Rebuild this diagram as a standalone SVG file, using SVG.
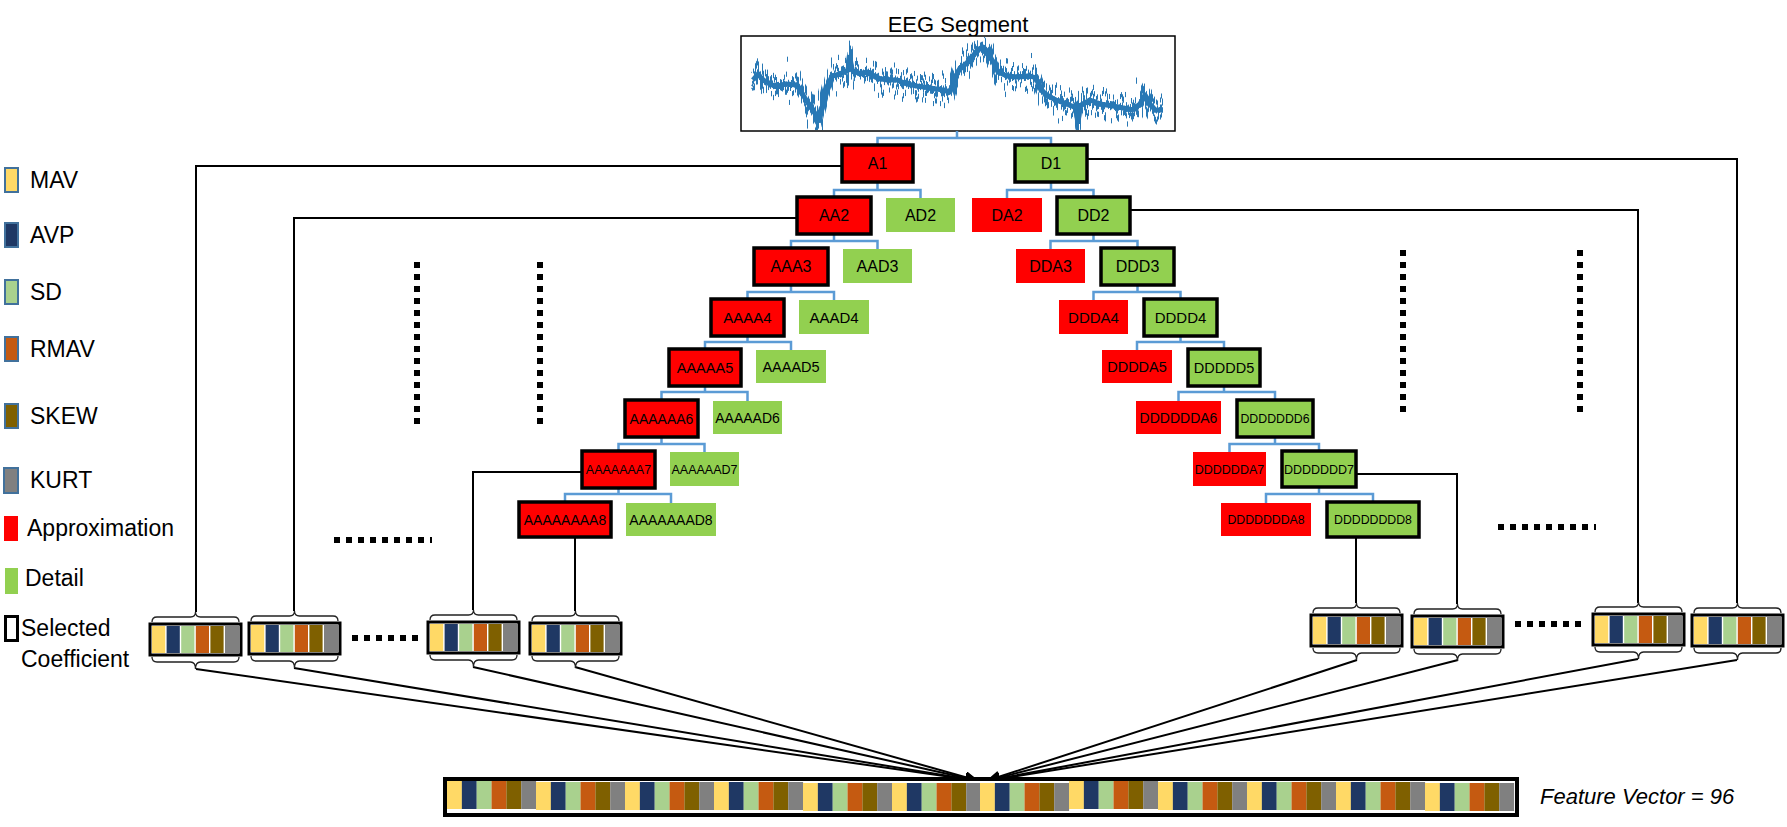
<svg xmlns="http://www.w3.org/2000/svg" xmlns:xlink="http://www.w3.org/1999/xlink" width="1787" height="827" viewBox="0 0 1787 827">
<style>
.t{font-family:"Liberation Sans",Arial,sans-serif;fill:#000}
.nt{font-family:"Liberation Sans",Arial,sans-serif;fill:#000;text-anchor:middle}
.sel{stroke:#000;stroke-width:3.5}
.ar{fill:#FF0000}
.dt{fill:#92D050}
.tree{stroke:#5B9BD5;stroke-width:2.5;fill:none}
.conn{stroke:#000;stroke-width:2;fill:none}
.arr{stroke:#000;stroke-width:2;fill:none;marker-end:url(#ah)}
.dots{stroke:#000;stroke-width:6;stroke-dasharray:6 6;fill:none}
.lg{stroke:#41719C;stroke-width:2}
.brace{stroke:#222;stroke-width:1.3;fill:none}
.c1{fill:#FFD966}.c2{fill:#1F3864}.c3{fill:#A9D18E}.c4{fill:#C55A11}.c5{fill:#7F6000}.c6{fill:#808080}
</style>
<defs>
<marker id="ah" markerUnits="userSpaceOnUse" markerWidth="16" markerHeight="14" refX="14" refY="6" orient="auto">
<path d="M0,0 L14,6 L0,12 Z" fill="#000"/>
</marker>
<filter id="noise" filterUnits="userSpaceOnUse" x="742" y="37" width="432" height="93" color-interpolation-filters="sRGB">
<feTurbulence type="fractalNoise" baseFrequency="0.45 0" numOctaves="2" seed="3" result="t"/>
<feColorMatrix in="t" type="matrix" values="0 0 0 0 0.5  0 1 0 0 0  0 0 0 0 0  0 0 0 0 1" result="m"/>
<feDisplacementMap in="SourceGraphic" in2="m" scale="90" xChannelSelector="R" yChannelSelector="G"/>
</filter>
<filter id="noise2" filterUnits="userSpaceOnUse" x="742" y="37" width="432" height="93" color-interpolation-filters="sRGB">
<feTurbulence type="fractalNoise" baseFrequency="0.9 0" numOctaves="1" seed="11" result="t"/>
<feColorMatrix in="t" type="matrix" values="0 0 0 0 0.5  0 1 0 0 0  0 0 0 0 0  0 0 0 0 1" result="m"/>
<feDisplacementMap in="SourceGraphic" in2="m" scale="60" xChannelSelector="R" yChannelSelector="G"/>
</filter>
<filter id="noise3" filterUnits="userSpaceOnUse" x="742" y="37" width="432" height="93" color-interpolation-filters="sRGB">
<feTurbulence type="fractalNoise" baseFrequency="0.2 0" numOctaves="2" seed="7" result="t"/>
<feColorMatrix in="t" type="matrix" values="0 0 0 0 0.5  0 1 0 0 0  0 0 0 0 0  0 0 0 0 1" result="m"/>
<feDisplacementMap in="SourceGraphic" in2="m" scale="60" xChannelSelector="R" yChannelSelector="G"/>
</filter>
<g id="seg">
<path class="brace" d="M2,-2 Q2,-7 7,-7 L40.5,-7 Q45.5,-7 45.5,-12 Q45.5,-7 50.5,-7 L84,-7 Q89,-7 89,-2"/>
<rect x="0" y="0" width="91" height="31" fill="#fff" stroke="#000" stroke-width="3"/>
<rect class="c1" x="2" y="2" width="13.2" height="27"/>
<rect class="c2" x="16.6" y="2" width="13.2" height="27"/>
<rect class="c3" x="31.2" y="2" width="13.2" height="27"/>
<rect class="c4" x="45.8" y="2" width="13.2" height="27"/>
<rect class="c5" x="60.4" y="2" width="13.2" height="27"/>
<rect class="c6" x="75" y="2" width="14" height="27"/>
<path class="brace" d="M2,33 Q2,38 7,38 L40.5,38 Q45.5,38 45.5,45 Q45.5,38 50.5,38 L84,38 Q89,38 89,33"/>
</g>
<g id="fgrp">
<rect class="c1" x="0" y="0" width="14.9" height="28"/>
<rect class="c2" x="14.85" y="0" width="14.9" height="28"/>
<rect class="c3" x="29.7" y="0" width="14.9" height="28"/>
<rect class="c4" x="44.55" y="0" width="14.9" height="28"/>
<rect class="c5" x="59.4" y="0" width="14.9" height="28"/>
<rect class="c6" x="74.25" y="0" width="14.85" height="28"/>
</g>
</defs>
<rect width="1787" height="827" fill="#fff"/>

<!-- EEG segment -->
<g id="eeg">
<text class="nt" x="958" y="32" font-size="22">EEG Segment</text>
<rect x="741" y="36" width="434" height="95" fill="#fff" stroke="#000" stroke-width="1.5"/>
<g stroke="#2878B5" fill="none" stroke-linejoin="round">
<path id="trend" stroke-width="5" d="M753,80 L758,74 L763,80 L770,84 L777,87 L785,84 L797,85 L803,95 L808,103 L813,110 L819,120 L823,104 L827,88 L832,76 L840,74 L848,70 L850,58 L852,70 L860,74 L868,72 L877,78 L887,80 L897,80 L907,84 L917,86 L930,88 L943,90 L950,92 L955,78 L960,68 L966,64 L972,57 L978,50 L983,47 L988,52 L993,62 L998,72 L1007,76 L1018,77 L1030,76 L1036,78 L1041,90 L1048,96 L1056,100 L1064,103 L1072,106 L1076,108 L1078,122 L1080,106 L1090,100 L1100,104 L1113,106 L1123,108 L1132,110 L1140,104 L1145,95 L1150,104 L1155,110 L1163,110"/>
<use href="#trend" filter="url(#noise)" stroke-width="4"/>
<use href="#trend" filter="url(#noise2)" stroke-width="3.5"/>
<use href="#trend" filter="url(#noise3)" stroke-width="4"/>
</g>
</g>

<!-- legend -->
<g id="legend">
<rect class="lg c1" x="5" y="168" width="13" height="24"/><text class="t" x="30" y="188" font-size="23">MAV</text>
<rect class="lg c2" x="5" y="223" width="13" height="24"/><text class="t" x="30" y="243" font-size="23">AVP</text>
<rect class="lg c3" x="5" y="280" width="13" height="24"/><text class="t" x="30" y="300" font-size="23">SD</text>
<rect class="lg c4" x="5" y="337" width="13" height="24"/><text class="t" x="30" y="357" font-size="23">RMAV</text>
<rect class="lg c5" x="5" y="404" width="13" height="24"/><text class="t" x="30" y="424" font-size="23">SKEW</text>
<rect class="lg c6" x="4" y="468" width="14" height="25"/><text class="t" x="30" y="488" font-size="23">KURT</text>
<rect x="4" y="516" width="14" height="25" fill="#FF0000"/><text class="t" x="27" y="536" font-size="23">Approximation</text>
<rect x="5" y="568" width="13" height="26" fill="#92D050"/><text class="t" x="25" y="586" font-size="23">Detail</text>
<rect x="5.5" y="616.5" width="12" height="24" fill="none" stroke="#000" stroke-width="3"/>
<text class="t" x="21" y="636" font-size="23">Selected</text>
<text class="t" x="21" y="667" font-size="23">Coefficient</text>
</g>

<!-- tree connectors and other connectors -->
<g id="connectors">
<path class="tree" d="M957,131 V138 M877.5,145 V138 H1051 V145"/>
<path class="tree" d="M877.5,182 V190 M834,197 V190 H920.5 V198"/>
<path class="tree" d="M1051,182 V190 M1007,198 V190 H1093.5 V197"/>
<path class="tree" d="M834,234 V241 M791,248 V241 H877.5 V249"/>
<path class="tree" d="M1093.5,234 V241 M1050.5,249 V241 H1137.5 V248"/>
<path class="tree" d="M791,285 V292 M747.5,299 V292 H834 V300"/>
<path class="tree" d="M1137.5,285 V292 M1093.5,300 V292 H1180.5 V299"/>
<path class="tree" d="M747.5,336 V342 M705,349 V342 H791 V350"/>
<path class="tree" d="M1180.5,336 V342 M1137,350 V342 H1224 V349"/>
<path class="tree" d="M705,386 V392 M661.5,400 V392 H747.5 V401"/>
<path class="tree" d="M1224,386 V392 M1178.5,401 V392 H1275 V400"/>
<path class="tree" d="M661.5,437 V444 M618.5,451 V444 H704.5 V452"/>
<path class="tree" d="M1275,437 V444 M1229.5,452 V444 H1319 V451"/>
<path class="tree" d="M618.5,488 V494 M565,502 V494 H671 V503"/>
<path class="tree" d="M1319,487 V494 M1266,503 V494 H1373 V502"/>

<path class="conn" d="M842,166 H196 V612"/>
<path class="conn" d="M797,218 H294 V611"/>
<path class="conn" d="M582,472 H473 V610"/>
<path class="conn" d="M575,537 V611"/>
<path class="conn" d="M1087,159 H1737 V603"/>
<path class="conn" d="M1130,210 H1638 V603"/>
<path class="conn" d="M1356,474 H1457 V604"/>
<path class="conn" d="M1356,537 V603"/>

<path class="arr" d="M196,669 L979,781"/>
<path class="arr" d="M294,668 L979,781"/>
<path class="arr" d="M473,667 L979,781"/>
<path class="arr" d="M575,667 L979,781"/>
<path class="arr" d="M1357,660 L986,781"/>
<path class="arr" d="M1458,660 L986,781"/>
<path class="arr" d="M1638,659 L986,781"/>
<path class="arr" d="M1737,660 L986,781"/>
</g>

<!-- dotted ellipses -->
<g id="dots">
<line class="dots" x1="417" y1="262" x2="417" y2="424"/>
<line class="dots" x1="540" y1="262" x2="540" y2="424"/>
<line class="dots" x1="1403" y1="250" x2="1403" y2="412"/>
<line class="dots" x1="1580" y1="250" x2="1580" y2="412"/>
<line class="dots" x1="334" y1="540" x2="432" y2="540"/>
<line class="dots" x1="1498" y1="527" x2="1596" y2="527"/>
<line class="dots" x1="352" y1="638" x2="418" y2="638"/>
<line class="dots" x1="1515" y1="624" x2="1581" y2="624"/>
</g>

<!-- approximation chain -->
<g id="n-A1"><rect class="ar sel" x="842" y="145" width="71" height="37"/><text class="nt" x="877.5" y="169" font-size="16">A1</text></g>
<g id="n-AA2"><rect class="ar sel" x="797" y="197" width="74" height="37"/><text class="nt" x="834" y="221" font-size="16">AA2</text></g>
<g id="n-AAA3"><rect class="ar sel" x="754" y="248" width="74" height="37"/><text class="nt" x="791" y="272" font-size="16">AAA3</text></g>
<g id="n-AAAA4"><rect class="ar sel" x="711" y="299" width="73" height="37"/><text class="nt" x="747.5" y="322.5" font-size="15">AAAA4</text></g>
<g id="n-AAAAA5"><rect class="ar sel" x="669" y="349" width="72" height="37"/><text class="nt" x="705" y="372.5" font-size="14.5">AAAAA5</text></g>
<g id="n-AAAAAA6"><rect class="ar sel" x="625" y="400" width="73" height="37"/><text class="nt" x="661.5" y="423.5" font-size="14">AAAAAA6</text></g>
<g id="n-AAAAAAA7"><rect class="ar sel" x="582" y="451" width="73" height="37"/><text class="nt" x="618.5" y="474" font-size="12.5">AAAAAAA7</text></g>
<g id="n-AAAAAAAA8"><rect class="ar sel" x="519" y="502" width="92" height="35"/><text class="nt" x="565" y="524.5" font-size="14">AAAAAAAA8</text></g>

<g id="n-AD2"><rect class="dt" x="886" y="198" width="69" height="34"/><text class="nt" x="920.5" y="221" font-size="16">AD2</text></g>
<g id="n-AAD3"><rect class="dt" x="843" y="249" width="69" height="34"/><text class="nt" x="877.5" y="272" font-size="16">AAD3</text></g>
<g id="n-AAAD4"><rect class="dt" x="799" y="300" width="70" height="34"/><text class="nt" x="834" y="322.5" font-size="15">AAAD4</text></g>
<g id="n-AAAAD5"><rect class="dt" x="756" y="350" width="70" height="33"/><text class="nt" x="791" y="371.5" font-size="14.5">AAAAD5</text></g>
<g id="n-AAAAAD6"><rect class="dt" x="713" y="401" width="69" height="33"/><text class="nt" x="747.5" y="422.5" font-size="14">AAAAAD6</text></g>
<g id="n-AAAAAAD7"><rect class="dt" x="670" y="452" width="69" height="34"/><text class="nt" x="704.5" y="473.5" font-size="12.5">AAAAAAD7</text></g>
<g id="n-AAAAAAAD8"><rect class="dt" x="626" y="503" width="90" height="33"/><text class="nt" x="671" y="524.5" font-size="14">AAAAAAAD8</text></g>

<!-- detail chain -->
<g id="n-D1"><rect class="dt sel" x="1015" y="145" width="72" height="37"/><text class="nt" x="1051" y="169" font-size="16">D1</text></g>
<g id="n-DD2"><rect class="dt sel" x="1057" y="197" width="73" height="37"/><text class="nt" x="1093.5" y="221" font-size="16">DD2</text></g>
<g id="n-DDD3"><rect class="dt sel" x="1101" y="248" width="73" height="37"/><text class="nt" x="1137.5" y="272" font-size="16">DDD3</text></g>
<g id="n-DDDD4"><rect class="dt sel" x="1144" y="299" width="73" height="37"/><text class="nt" x="1180.5" y="322.5" font-size="15">DDDD4</text></g>
<g id="n-DDDDD5"><rect class="dt sel" x="1188" y="349" width="72" height="37"/><text class="nt" x="1224" y="372.5" font-size="14.5">DDDDD5</text></g>
<g id="n-DDDDDDD6"><rect class="dt sel" x="1237" y="400" width="76" height="37"/><text class="nt" x="1275" y="423" font-size="12.3">DDDDDDD6</text></g>
<g id="n-DDDDDDD7"><rect class="dt sel" x="1282" y="451" width="74" height="36"/><text class="nt" x="1319" y="473.5" font-size="12.5">DDDDDDD7</text></g>
<g id="n-DDDDDDDD8"><rect class="dt sel" x="1327" y="502" width="92" height="35"/><text class="nt" x="1373" y="524" font-size="12.3">DDDDDDDD8</text></g>

<g id="n-DA2"><rect class="ar" x="972" y="198" width="70" height="34"/><text class="nt" x="1007" y="221" font-size="16">DA2</text></g>
<g id="n-DDA3"><rect class="ar" x="1016" y="249" width="69" height="34"/><text class="nt" x="1050.5" y="272" font-size="16">DDA3</text></g>
<g id="n-DDDA4"><rect class="ar" x="1059" y="300" width="69" height="34"/><text class="nt" x="1093.5" y="322.5" font-size="15">DDDA4</text></g>
<g id="n-DDDDA5"><rect class="ar" x="1102" y="350" width="70" height="33"/><text class="nt" x="1137" y="371.5" font-size="14.5">DDDDA5</text></g>
<g id="n-DDDDDDA6"><rect class="ar" x="1136" y="401" width="85" height="33"/><text class="nt" x="1178.5" y="422.5" font-size="14">DDDDDDA6</text></g>
<g id="n-DDDDDDA7"><rect class="ar" x="1193" y="452" width="73" height="34"/><text class="nt" x="1229.5" y="473.5" font-size="12.5">DDDDDDA7</text></g>
<g id="n-DDDDDDDA8"><rect class="ar" x="1221" y="503" width="90" height="33"/><text class="nt" x="1266" y="524" font-size="12.3">DDDDDDDA8</text></g>

<!-- selected coefficient feature segments -->
<g id="seg-A1"><use href="#seg" x="150" y="624"/></g>
<g id="seg-AA2"><use href="#seg" x="249" y="623"/></g>
<g id="seg-A7"><use href="#seg" x="428" y="622"/></g>
<g id="seg-A8"><use href="#seg" x="530" y="623"/></g>
<g id="seg-D8"><use href="#seg" x="1311" y="615"/></g>
<g id="seg-D7"><use href="#seg" x="1412" y="616"/></g>
<g id="seg-DD2"><use href="#seg" x="1593" y="614"/></g>
<g id="seg-D1"><use href="#seg" x="1692" y="615"/></g>

<!-- feature vector -->
<g id="feature-vector">
<rect x="445" y="779" width="1072" height="36" fill="#fff" stroke="#000" stroke-width="4"/>
<use href="#fgrp" x="447" y="781"/>
<use href="#fgrp" x="536" y="782"/>
<use href="#fgrp" x="625" y="782"/>
<use href="#fgrp" x="714" y="782"/>
<use href="#fgrp" x="803" y="783"/>
<use href="#fgrp" x="892" y="783"/>
<use href="#fgrp" x="980" y="783"/>
<use href="#fgrp" x="1069" y="781"/>
<use href="#fgrp" x="1158" y="782"/>
<use href="#fgrp" x="1247" y="782"/>
<use href="#fgrp" x="1336" y="782"/>
<use href="#fgrp" x="1425" y="783"/>
<text class="t" x="1540" y="804" font-size="22" font-style="italic">Feature Vector = 96</text>
</g>
</svg>
